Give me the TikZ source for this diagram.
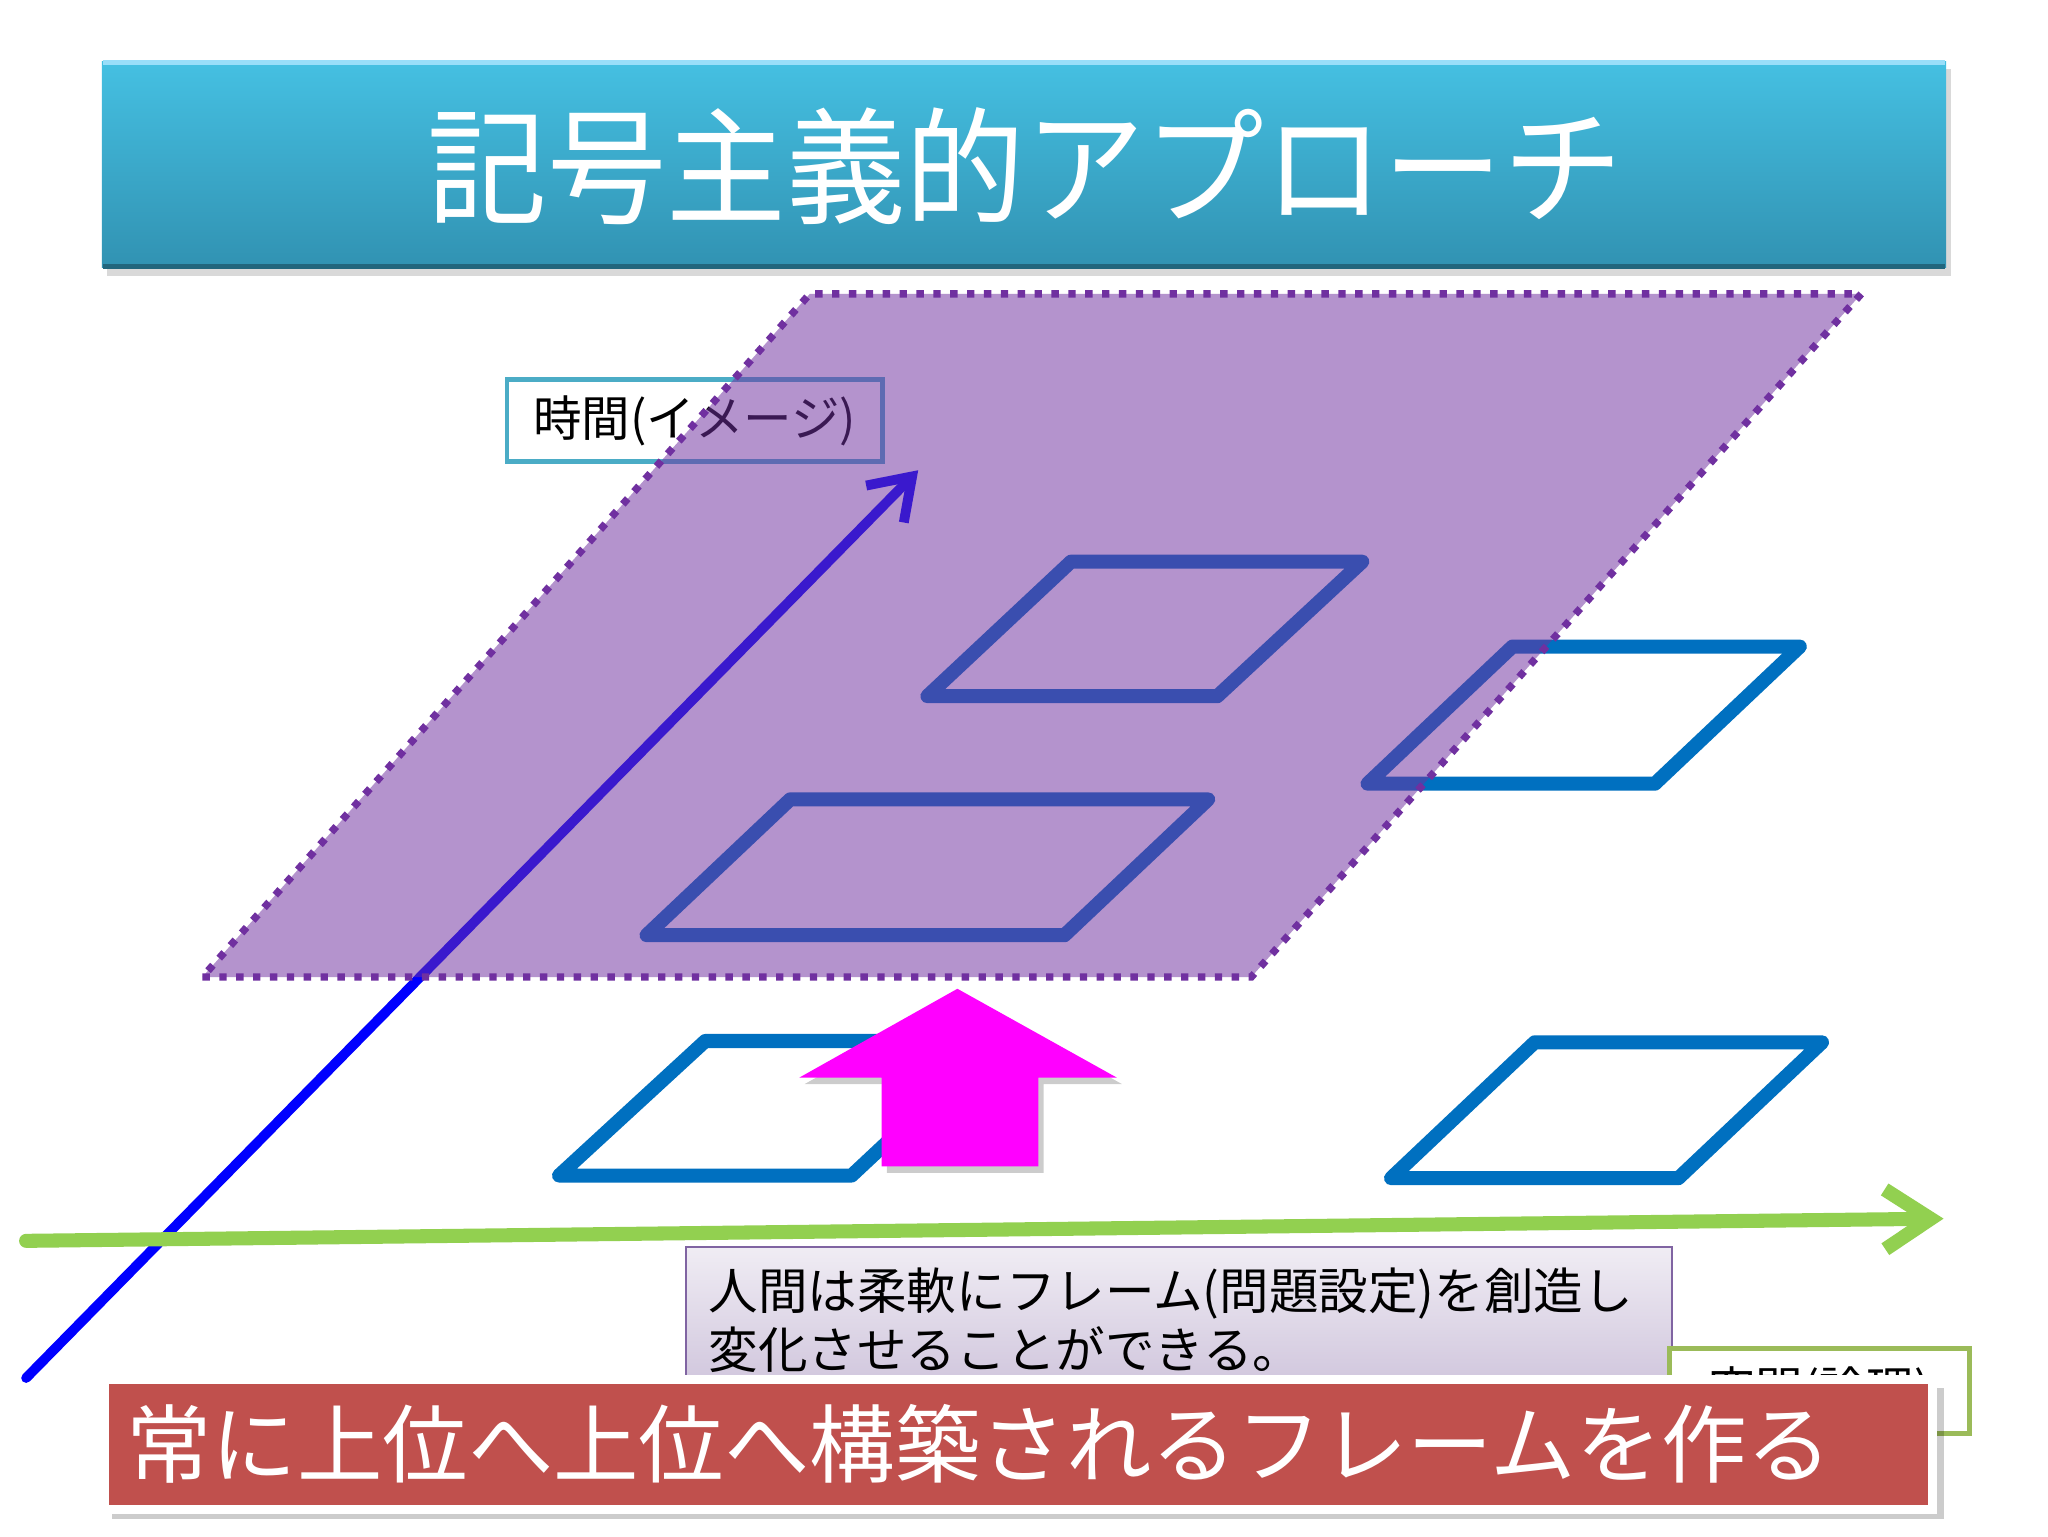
\documentclass[tikz,border=0pt]{standalone}
\usepackage{fontspec}
\setmainfont{Noto Sans CJK JP}
\usetikzlibrary{arrows.meta}
\definecolor{framecol}{HTML}{0070C0}
\definecolor{planecol}{HTML}{7030A0}
\definecolor{timecol}{HTML}{0000FF}
\definecolor{spacecol}{HTML}{92D050}
\definecolor{labelcol}{HTML}{4BACC6}
\definecolor{notecol}{HTML}{8064A2}
\definecolor{boxgreen}{HTML}{9BBB59}
\definecolor{mottocol}{HTML}{C0504D}
\definecolor{upcol}{HTML}{FF00FF}
\definecolor{titletop}{HTML}{45C0E2}
\definecolor{titlebot}{HTML}{3192B2}

\begin{document}
\begin{tikzpicture}[x=0.1306mm, y=-0.1306mm,
  frame/.style={draw=framecol, line width=4pt, line join=round},
  plane/.style={fill=planecol, fill opacity=0.52, draw=planecol, line width=2.1pt, dash pattern=on 2.1pt off 2.7pt},
  axisline/.style={line width=#1, line cap=round, line join=round},
  shadowcol/.style={fill=black, opacity=0.25}]
	\useasboundingbox (0,0) rectangle (1568,1176);
	\fill[white] (0,0) rectangle (1568,1176);
	% title bar
	\fill[shadowcol, opacity=0.15] (82,53) rectangle (1494,211);
	\shade[top color=titletop, bottom color=titlebot] (78,47) rectangle (1490,205);
	\draw[line width=1.5pt, color=cyan!40] (79,48) -- (1489,48);
	\draw[line width=1.5pt, color=titlebot!70!black] (79,204) -- (1489,204);
	\node[text=white, font=\fontsize{34pt}{38pt}\selectfont, yscale=1.06, transform shape] (title) at (785,127) {記号主義的アプローチ};
	% time label
	\node[draw=labelcol, line width=1.2pt, fill=white, minimum width=37.5mm, minimum height=8.2mm, inner sep=0pt, font=\fontsize{13.8pt}{16pt}\selectfont] (timelbl) at (532,322) {時間(イメージ)};
	% frames
	\draw[frame] (710,533) -- (932,533) -- (1043,430) -- (820,430) -- cycle;
	\draw[frame] (495,716) -- (815,716) -- (925,612) -- (605,612) -- cycle;
	\draw[frame] (1047,600) -- (1267,600) -- (1378,495) -- (1158,495) -- cycle;
	\draw[frame] (428,900) -- (652,900) -- (762,797) -- (540,797) -- cycle;
	\draw[frame] (1065,902) -- (1285,902) -- (1395,798) -- (1175,798) -- cycle;
	% time axis
	\coordinate (t0) at (20,1055);
	\coordinate (t1) at (703,360);
	\draw[axisline=2.8pt, timecol, -{Straight Barb[length=11pt, width=15pt]}] (t0) -- (t1);
	% plane of frames
	\coordinate (p1) at (155,748);
	\coordinate (p2) at (958,748);
	\coordinate (p3) at (1425,225);
	\coordinate (p4) at (620,225);
	\draw[plane] (p1) -- (p2) -- (p3) -- (p4) -- cycle;
	% upward block arrow
	\fill[shadowcol, opacity=0.2] (737,762) -- (859,830) -- (799,830) -- (799,898) -- (679,898) -- (679,830) -- (616,830) -- cycle;
	\fill[upcol] (733,757) -- (855,825) -- (795,825) -- (795,893) -- (675,893) -- (675,825) -- (612,825) -- cycle;
	% space axis
	\coordinate (s0) at (20,950);
	\coordinate (s1) at (1488,933);
	\draw[axisline=4pt, spacecol, -{Straight Barb[length=13pt, width=17pt]}] (s0) -- (s1);
	% note
	\node[draw=notecol, line width=0.6pt, top color=notecol!12, bottom color=notecol!38, anchor=north west, outer sep=0pt, minimum width=98mm, minimum height=14.5mm, text width=94mm, inner xsep=2.3mm, align=left, font=\fontsize{14.1pt}{16.8pt}\selectfont] (note) at (525,955) {人間は柔軟にフレーム(問題設定)を創造し\\変化させることができる。};
	% space label
	\node[draw=boxgreen, line width=1.5pt, fill=white, minimum width=30mm, minimum height=8.5mm, inner sep=0pt, font=\fontsize{13.5pt}{16pt}\selectfont] (spacelbl) at (1393,1065) {空間(論理)};
	% motto
	\fill[shadowcol, opacity=0.2] (86,1063) rectangle (1488,1163);
	\node[fill=mottocol, draw=white, line width=2.6pt, anchor=north west, outer sep=0pt, minimum width=182.8mm, minimum height=13mm, text width=178.4mm, inner xsep=2.2mm, align=left, text=white, font=\fontsize{24.3pt}{28pt}\selectfont] (motto) at (80,1056) {常に上位へ上位へ構築されるフレームを作る};
\end{tikzpicture}
\end{document}
